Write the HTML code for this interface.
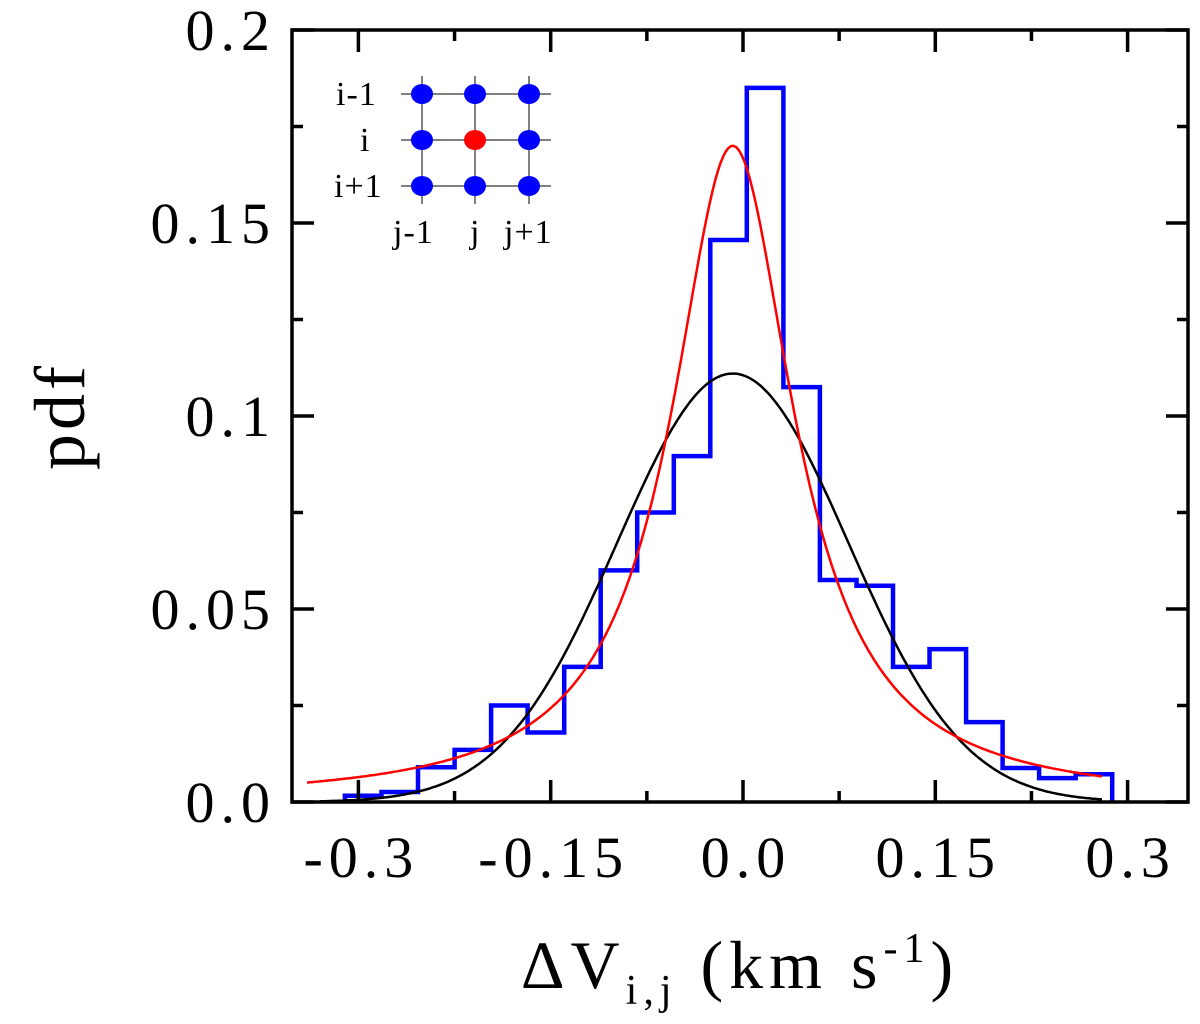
<!DOCTYPE html>
<html><head><meta charset="utf-8"><style>
html,body{margin:0;padding:0;background:#fff;}
svg text{font-family:"Liberation Serif",serif;fill:#000;}
</style></head><body>
<svg id="chart" width="1200" height="1019" viewBox="0 0 1200 1019" xmlns="http://www.w3.org/2000/svg">
<g id="inset">
  <g stroke="#555" stroke-width="1.5">
    <line x1="401" y1="94" x2="551" y2="94"/><line x1="401" y1="140" x2="551" y2="140"/><line x1="401" y1="186" x2="551" y2="186"/>
    <line x1="422" y1="76" x2="422" y2="204"/><line x1="475" y1="76" x2="475" y2="204"/><line x1="529" y1="76" x2="529" y2="204"/>
  </g>
  <g fill="#0000ff">
    <ellipse cx="422" cy="94" rx="11" ry="10"/><ellipse cx="475" cy="94" rx="11" ry="10"/><ellipse cx="529" cy="94" rx="11" ry="10"/>
    <ellipse cx="422" cy="140" rx="11" ry="10"/><ellipse cx="529" cy="140" rx="11" ry="10"/>
    <ellipse cx="422" cy="186" rx="11" ry="10"/><ellipse cx="475" cy="186" rx="11" ry="10"/><ellipse cx="529" cy="186" rx="11" ry="10"/>
  </g>
  <ellipse cx="475" cy="140" rx="11" ry="10" fill="#ff0000"/>
  <g font-size="34" letter-spacing="1">
    <text x="336" y="105">i-1</text><text x="360" y="151">i</text><text x="334" y="197">i+1</text>
  </g>
  <g font-size="34" letter-spacing="1">
    <text x="393" y="243">j-1</text><text x="470" y="243">j</text><text x="504" y="243">j+1</text>
  </g>
</g>
<g id="plot"></g>
<text x="0" y="0" font-size="72" letter-spacing="4" text-anchor="middle" transform="translate(84,416) rotate(-90)">pdf</text>
<text x="740" y="988" font-size="68" letter-spacing="6" text-anchor="middle">ΔV<tspan font-size="42" dy="16">i,j</tspan><tspan dy="-16"> (km s</tspan><tspan font-size="42" dy="-26">-1</tspan><tspan dy="26">)</tspan></text>
</svg>
<script>
const binEdges=[-0.3105,-0.2820,-0.2535,-0.2250,-0.1965,-0.1680,-0.1395,-0.1110,-0.0825,-0.0540,-0.0255,0.0030,0.0315,0.0600,0.0885,0.1170,0.1455,0.1740,0.2025,0.2310,0.2595,0.2880];
const binValues=[0.0016,0.0026,0.009,0.0135,0.025,0.018,0.035,0.060,0.075,0.0896,0.1456,0.185,0.1075,0.0575,0.056,0.035,0.0396,0.0207,0.0088,0.0062,0.0072];
const gaussParams=[0.111,-0.008,0.09]; // amplitude, mean, sigma
const redFitParams=[0.170,-0.008,0.058,1.0]; // amplitude, center, width, exponent
const xTicks=[-0.3,-0.15,0.0,0.15,0.3];
const xTickLabels=["-0.3","-0.15","0.0","0.15","0.3"];
const yTicks=[0,0.05,0.1,0.15,0.2];
const yTickLabels=["0.0","0.05","0.1","0.15","0.2"];
const X0=292,X1=1188,Y0=802,Y1=30;
const xs=v=>743+v*1282;
const ys=v=>Y0-(v/0.2)*(Y0-Y1);
const NS="http://www.w3.org/2000/svg";
const plot=document.getElementById('plot');
function mk(t,a){const e=document.createElementNS(NS,t);for(const k in a)e.setAttribute(k,a[k]);plot.appendChild(e);return e;}
let gd="",rd="";
for(let i=0;i<=300;i++){
  const v=-0.33+i*(0.61/300);
  const g=gaussParams[0]*Math.exp(-Math.pow(v-gaussParams[1],2)/(2*gaussParams[2]*gaussParams[2]));
  gd+=(i?"L":"M")+xs(v).toFixed(1)+","+ys(g).toFixed(1);
}
for(let i=0;i<=300;i++){
  const v=-0.34+i*(0.62/300);
  const u=(v-redFitParams[1])/redFitParams[2];
  const r=redFitParams[0]/Math.pow(1+u*u,redFitParams[3]);
  rd+=(i?"L":"M")+xs(v).toFixed(1)+","+ys(r).toFixed(1);
}
let hd="M"+xs(binEdges[0]).toFixed(1)+","+ys(0);
for(let i=0;i<binValues.length;i++){
  hd+="L"+xs(binEdges[i]).toFixed(1)+","+ys(binValues[i]).toFixed(1)+"L"+xs(binEdges[i+1]).toFixed(1)+","+ys(binValues[i]).toFixed(1);
}
hd+="L"+xs(binEdges[binEdges.length-1]).toFixed(1)+","+ys(0);
const h=mk('path',{d:hd,fill:'none',stroke:'#0000ff','stroke-width':4.5});


const gc=mk('path',{d:gd,fill:'none',stroke:'#000','stroke-width':2.5});


const rc=mk('path',{d:rd,fill:'none',stroke:'#ff0000','stroke-width':2.5});


const fr=mk('rect',{x:X0,y:Y1,width:X1-X0,height:Y0-Y1,fill:'none',stroke:'#000','stroke-width':3.5});


for(let k=-4;k<=4;k++){
  const v=k*0.075, x=xs(v), L=(k%2===0)?22:11;
  mk('line',{x1:x,y1:Y0,x2:x,y2:Y0-L,stroke:'#000','stroke-width':3.5});
  mk('line',{x1:x,y1:Y1,x2:x,y2:Y1+L,stroke:'#000','stroke-width':3.5});
}
xTicks.forEach((v,i)=>{
  const t=mk('text',{x:xs(v)+3,y:877,'font-size':58,'letter-spacing':6,'text-anchor':'middle'});
  t.textContent=xTickLabels[i];
  
  
});
for(let k=0;k<=8;k++){
  const v=k*0.025,y=ys(v),L=(k%2===0)?22:11;
  mk('line',{x1:X0,y1:y,x2:X0+L,y2:y,stroke:'#000','stroke-width':3.5});
  mk('line',{x1:X1,y1:y,x2:X1-L,y2:y,stroke:'#000','stroke-width':3.5});
}
yTicks.forEach((v,i)=>{
  const t=mk('text',{x:276,y:ys(v)+20,'font-size':58,'letter-spacing':6,'text-anchor':'end'});
  t.textContent=yTickLabels[i];
  
  
});
</script>
</body></html>
